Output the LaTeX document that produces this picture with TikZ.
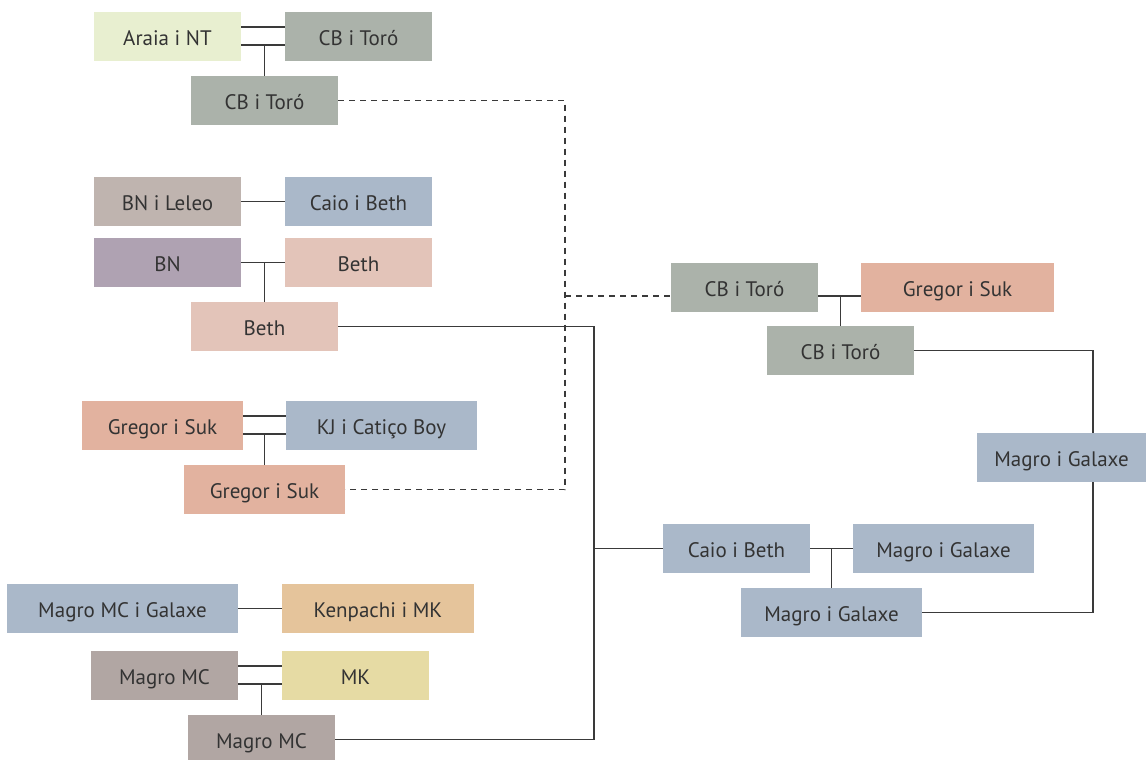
\documentclass[tikz,border=0pt]{standalone}
\usepackage{fontspec}
\setmainfont{PT Sans}
\definecolor{cAraia}{HTML}{E8EFD0}
\definecolor{cCB}{HTML}{ABB2AA}
\definecolor{cLeleo}{HTML}{BFB4AF}
\definecolor{cBlue}{HTML}{AAB8C9}
\definecolor{cBN}{HTML}{AFA2B2}
\definecolor{cBeth}{HTML}{E3C4B9}
\definecolor{cGregor}{HTML}{E2B29F}
\definecolor{cKen}{HTML}{E5C49B}
\definecolor{cMC}{HTML}{B1A6A3}
\definecolor{cMK}{HTML}{E6DBA4}
\definecolor{cTxt}{HTML}{333333}
\definecolor{cLine}{HTML}{3A3A3A}
\tikzset{
  box/.style={fill=#1, draw=none, inner sep=0pt, outer sep=0pt, minimum height=49pt,
    text height=17.7pt, text depth=0pt,
    text=cTxt, font=\fontsize{21}{24}\selectfont},
  link/.style={draw=cLine, line width=1.2pt},
  dlink/.style={draw=cLine, line width=1.2pt, dash pattern=on 6pt off 5pt},
}
\begin{document}
\begin{tikzpicture}[x=1pt,y=-1pt]
\useasboundingbox (0,0) rectangle (1146,760);
% group A
\node[box=cAraia, minimum width=147pt] (a1) at (167.5,36.5) {Araia i NT};
\node[box=cCB, minimum width=147pt] (a2) at (358.5,36.5) {CB i Toró};
\node[box=cCB, minimum width=147pt] (a3) at (264.5,100.5) {CB i Toró};
% group B
\node[box=cLeleo, minimum width=147pt] (b1) at (167.5,201.5) {BN i Leleo};
\node[box=cBlue, minimum width=147pt] (b2) at (358.5,201.5) {Caio i Beth};
\node[box=cBN, minimum width=147pt] (b3) at (167.5,262.5) {BN};
\node[box=cBeth, minimum width=147pt] (b4) at (358.5,262.5) {Beth};
\node[box=cBeth, minimum width=147pt] (b5) at (264.5,326.5) {Beth};
% group C
\node[box=cGregor, minimum width=161pt] (c1) at (162.5,425.5) {Gregor i Suk};
\node[box=cBlue, minimum width=191pt] (c2) at (381.5,425.5) {KJ i Catiço Boy};
\node[box=cGregor, minimum width=161pt] (c3) at (264.5,489.5) {Gregor i Suk};
% group D
\node[box=cBlue, minimum width=231pt] (d1) at (122.5,608.5) {Magro MC i Galaxe};
\node[box=cKen, minimum width=192pt] (d2) at (378,608.5) {Kenpachi i MK};
\node[box=cMC, minimum width=147pt] (d3) at (164.5,675.5) {Magro MC};
\node[box=cMK, minimum width=147pt] (d4) at (355.5,675.5) {MK};
\node[box=cMC, minimum width=147pt] (d5) at (261.5,739.5) {Magro MC};
% right side
\node[box=cCB, minimum width=147pt] (e1) at (744.5,287.5) {CB i Toró};
\node[box=cGregor, minimum width=193pt] (e2) at (957.5,287.5) {Gregor i Suk};
\node[box=cCB, minimum width=147pt] (e3) at (840.5,350.5) {CB i Toró};
\node[box=cBlue, minimum width=169pt] (f1) at (1061.5,457.5) {Magro i Galaxe};
\node[box=cBlue, minimum width=147pt] (g1) at (736.5,548.5) {Caio i Beth};
\node[box=cBlue, minimum width=181pt] (g2) at (943.5,548.5) {Magro i Galaxe};
\node[box=cBlue, minimum width=181pt] (g3) at (831.5,612.5) {Magro i Galaxe};
% junction coordinates
\coordinate (a1hi) at ([yshift=9.5pt]a1.east);
\coordinate (a1lo) at ([yshift=-8.5pt]a1.east);
\coordinate (a2hi) at ([yshift=9.5pt]a2.west);
\coordinate (a2lo) at ([yshift=-8.5pt]a2.west);
\coordinate (c1hi) at ([yshift=9.5pt]c1.east);
\coordinate (c1lo) at ([yshift=-8.5pt]c1.east);
\coordinate (c2hi) at ([yshift=9.5pt]c2.west);
\coordinate (c2lo) at ([yshift=-8.5pt]c2.west);
\coordinate (d3hi) at ([yshift=9.5pt]d3.east);
\coordinate (d3lo) at ([yshift=-8.5pt]d3.east);
\coordinate (d4hi) at ([yshift=9.5pt]d4.west);
\coordinate (d4lo) at ([yshift=-8.5pt]d4.west);
\coordinate (e1lo) at ([yshift=-8.5pt]e1.east);
\coordinate (e1in) at ([yshift=-8.5pt]e1.west);
\coordinate (e2lo) at ([yshift=-8.5pt]e2.west);
% marriage lines
\draw[link] (a1hi) -- (a2hi);
\draw[link] (a1lo) -- (a2lo);
\draw[link] (a3.north) -- (a3.north |- a1lo);
\draw[link] (b1) -- (b2);
\draw[link] (b3) -- (b4);
\draw[link] (b5.north) -- (b5.north |- b3.east);
\draw[link] (c1hi) -- (c2hi);
\draw[link] (c1lo) -- (c2lo);
\draw[link] (c3.north) -- (c3.north |- c1lo);
\draw[link] (d1) -- (d2);
\draw[link] (d3hi) -- (d4hi);
\draw[link] (d3lo) -- (d4lo);
\draw[link] (d5.north) -- (d5.north |- d3lo);
\draw[link] (e1lo) -- (e2lo);
\draw[link] (e3.north) -- (e3.north |- e1lo);
\draw[link] (g1) -- (g2);
\draw[link] (g3.north) -- (g3.north |- g1.east);
% long connectors
\coordinate (L1) at (594,326.5);
\coordinate (L2) at (594,739.5);
\coordinate (L3) at (594,548.5);
\draw[link] (b5.east) -- (L1) -- (L2) -- (d5.east);
\draw[link] (L3) -- (g1.west);
\coordinate (D1) at (565,100.5);
\coordinate (D2) at (565,489.5);
\draw[dlink] (a3.east) -- (D1) -- (D2) -- (c3.east);
\draw[dlink] (D1 |- e1in) -- (e1in);
\coordinate (R1) at (1093,350.5);
\coordinate (R2) at (1093,612.5);
\draw[link] (e3.east) -- (R1) -- (R1 |- f1.north);
\draw[link] (R1 |- f1.south) -- (R2) -- (g3.east);
\end{tikzpicture}
\end{document}
